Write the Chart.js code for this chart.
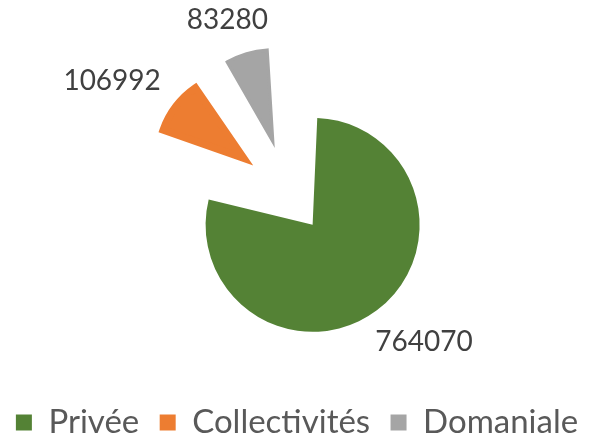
<!DOCTYPE html>
<html>
<head>
<meta charset="utf-8">
<script src="https://cdn.jsdelivr.net/npm/chart.js@4"></script>
<style>
  html, body { margin: 0; padding: 0; background: #fff; }
  #wrap { width: 594px; height: 439px; }
</style>
</head>
<body>
<div id="wrap"><canvas id="chart"></canvas></div>
<script>
const categories = ['Privée', 'Collectivités', 'Domaniale'];
const surfaces = [764070, 106992, 83280];
const colors = ['#548235', '#ED7D31', '#A5A5A5'];
// explosion per slice, and a same-colour border that fattens the small slices
const explode = [164, 222, 212];
const outline = [0, 7.3, 3.2];
const labelGap = [30, 28, 24];

const FONT = 'Lato, "Liberation Sans", sans-serif';

// move the pie centre a little (the exploded pie is not centred)
const pieShift = {
  id: 'pieShift',
  afterLayout(chart, args, opts) {
    const a = chart.chartArea;
    a.left += opts.dx; a.right += opts.dx;
    a.top += opts.dy; a.bottom += opts.dy;
  }
};

// value labels outside each slice
const valueLabels = {
  id: 'valueLabels',
  afterDatasetsDraw(chart, args, opts) {
    const ctx = chart.ctx;
    const meta = chart.getDatasetMeta(0);
    ctx.save();
    ctx.font = opts.font;
    ctx.fillStyle = opts.color;
    ctx.textAlign = 'center';
    ctx.textBaseline = 'middle';
    meta.data.forEach((arc, i) => {
      const p = arc.getProps(['x', 'y', 'startAngle', 'endAngle', 'outerRadius', 'circumference'], true);
      const mid = (p.startAngle + p.endAngle) / 2;
      const off = (arc.options.offset || 0) / 4;
      const fix = 1 - Math.sin(Math.min(Math.PI, p.circumference));
      const r = p.outerRadius + off * fix + (arc.options.borderWidth || 0) / 2 + labelGap[i];
      const dx = Math.cos(mid), dy = Math.sin(mid);
      const text = String(chart.data.datasets[0].data[i]);
      const w = ctx.measureText(text).width;
      const x = p.x + dx * (off + r) + dx * w / 2;
      const y = p.y + dy * (off + r) + dy * opts.height / 2;
      ctx.fillText(text, x, y);
    });
    ctx.restore();
  }
};

new Chart(document.getElementById('chart'), {
  type: 'pie',
  data: {
    labels: categories,
    datasets: [{
      data: surfaces,
      backgroundColor: colors,
      borderColor: colors,
      borderWidth: outline,
      borderJoinStyle: 'miter',
      offset: explode,
      hoverOffset: 0
    }]
  },
  options: {
    responsive: true,
    maintainAspectRatio: false,
    animation: false,
    radius: 66,
    rotation: -1,
    layout: {padding: {top: 0, bottom: -10, left: 0, right: 0}},
    plugins: {
      legend: {
        position: 'bottom',
        labels: {
          font: {family: FONT, size: 33},
          color: '#595959',
          boxWidth: 16,
          boxHeight: 16,
          padding: 12,
          generateLabels(chart) {
            const items = Chart.overrides.doughnut.plugins.legend.labels.generateLabels(chart);
            items.forEach((it, i) => {
              it.lineWidth = 0;
              if (i < items.length - 1) it.text += ' ';
            });
            return items;
          }
        }
      },
      tooltip: {enabled: false},
      pieShift: {dx: -9, dy: -5},
      valueLabels: {font: '28px ' + FONT, color: '#404040', height: 20}
    }
  },
  plugins: [pieShift, valueLabels]
});
</script>
</body>
</html>
